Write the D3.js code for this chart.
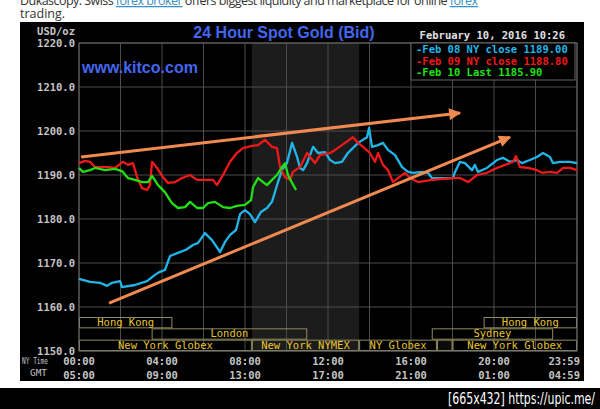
<!DOCTYPE html>
<html>
<head>
<meta charset="utf-8">
<script src="https://cdn.jsdelivr.net/npm/d3@7"></script>
<style>
  body { margin: 0; background: #fff; }
  svg { display: block; }
</style>
</head>
<body>
<script>
// axis values
var yTicks = [1150, 1160, 1170, 1180, 1190, 1200, 1210, 1220];
var gridHours = [0, 2, 4, 6, 8, 10, 12, 14, 16, 18, 20, 22, 24];
var labelHours = [0, 4, 8, 12, 16, 20, 24];
var nyLabels = ["00:00", "04:00", "08:00", "12:00", "16:00", "20:00", "23:59"];
var gmtLabels = ["05:00", "09:00", "13:00", "17:00", "21:00", "01:00", "04:59"];

// NYMEX pit session (shaded)
var pitHours = [8.33, 13.5];

// trading sessions: [name, start hour, end hour, row]
var sessions = [
  ["Hong Kong", 0, 4.5, 0],
  ["Hong Kong", 19.5, 24, 0],
  ["London", 3.5, 11, 1],
  ["Sydney", 17, 22.85, 1],
  ["New York Globex", 0, 8.33, 2],
  ["New York NYMEX", 8.33, 13.5, 2],
  ["NY Globex", 13.5, 17.25, 2],
  ["", 17.25, 18, 2],
  ["New York Globex", 18, 24, 2]
];

var legendLabels = ["Feb 08 NY close 1189.00", "Feb 09 NY close 1188.80", "Feb 10 Last 1185.90"];

// [hour, price]
var feb08 = [
  [0,1166.4],[0.53,1165.7],[1.01,1165.5],[1.35,1164.8],[1.59,1165.5],[1.98,1165.9],[2.07,1164.5],
  [2.7,1165.0],[3.28,1165.9],[3.66,1167.3],[3.9,1168.0],[4.14,1168.4],[4.39,1171.6],[4.77,1172.3],
  [5.16,1173.0],[5.49,1174.1],[5.73,1174.5],[6.07,1176.8],[6.41,1175.2],[6.8,1172.5],[7.04,1174.8],
  [7.28,1176.4],[7.57,1177.5],[7.76,1181.1],[8.0,1182.0],[8.24,1181.1],[8.48,1179.3],[8.77,1181.6],
  [9.06,1182.5],[9.3,1183.9],[9.59,1188.4],[9.78,1191.1],[10.02,1192.7],[10.27,1197.3],[10.51,1194.1],
  [10.65,1191.6],[10.8,1191.1],[10.99,1192.7],[11.28,1196.4],[11.52,1195.0],[11.86,1195.2],[12.1,1193.4],
  [12.34,1192.7],[12.67,1193.0],[12.96,1195.0],[13.45,1197.3],[13.88,1198.6],[13.98,1200.7],[14.12,1196.4],
  [14.41,1196.8],[14.65,1197.3],[14.89,1195.7],[15.23,1194.5],[15.57,1191.8],[15.86,1190.7],[16.1,1190.5],
  [16.53,1190.7],[16.82,1190.5],[17.01,1189.3],[18.02,1189.3],[18.12,1190.7],[18.36,1193.0],[18.6,1192.7],
  [18.94,1191.1],[19.08,1192.3],[19.23,1190.7],[19.66,1191.6],[20.14,1193.4],[20.43,1193.9],[20.77,1193.0],
  [21.11,1193.4],[21.35,1192.7],[21.73,1193.4],[22.07,1194.1],[22.36,1195.0],[22.7,1194.1],[22.84,1192.7],
  [23.18,1193.0],[23.66,1193.0],[24,1192.7]
];
var feb09 = [
  [0,1192.7],[0.29,1193.2],[0.53,1193.0],[0.77,1191.8],[1.11,1191.8],[1.4,1191.8],[1.73,1191.6],
  [2.12,1193.0],[2.36,1192.3],[2.6,1192.7],[2.8,1189.5],[3.04,1187.0],[3.28,1186.6],[3.42,1187.7],
  [3.52,1193.0],[3.76,1191.6],[4.0,1189.8],[4.29,1188.2],[4.63,1188.4],[4.96,1189.3],[5.35,1190.0],
  [5.69,1188.9],[6.17,1188.9],[6.46,1188.9],[6.65,1187.7],[6.94,1190.0],[7.28,1193.0],[7.61,1195.0],
  [7.9,1196.1],[8.34,1196.6],[8.63,1196.8],[8.96,1198.0],[9.3,1196.4],[9.54,1196.1],[9.69,1191.8],
  [9.93,1189.5],[10.17,1188.9],[10.31,1190.7],[10.65,1191.8],[10.99,1195.0],[11.37,1192.7],[11.61,1194.5],
  [12.1,1195.0],[12.34,1195.7],[12.82,1197.3],[13.2,1198.6],[13.45,1197.3],[13.69,1196.4],[14.02,1195.0],
  [14.27,1193.0],[14.41,1195.0],[14.65,1192.3],[14.89,1191.1],[15.13,1188.4],[15.37,1189.3],[15.71,1190.5],
  [15.95,1189.3],[16.34,1188.4],[17.01,1188.9],[18.02,1189.3],[18.36,1189.3],[18.75,1188.4],[19.18,1190.0],
  [19.66,1190.5],[20.14,1191.6],[20.53,1192.3],[20.92,1193.0],[21.06,1194.3],[21.25,1191.8],[21.64,1191.6],
  [22.07,1191.1],[22.31,1190.5],[22.7,1190.7],[23.04,1190.5],[23.33,1191.6],[23.66,1191.6],[24,1191.1]
];
var feb10 = [
  [0,1191.6],[0.19,1190.7],[0.53,1191.1],[0.77,1191.6],[1.25,1191.1],[1.73,1191.4],[2.07,1190.9],
  [2.36,1189.3],[2.7,1188.9],[3.04,1188.4],[3.33,1188.4],[3.52,1189.8],[3.81,1187.7],[4.14,1186.1],
  [4.48,1183.6],[4.77,1182.5],[5.11,1182.7],[5.35,1183.9],[5.69,1182.5],[5.98,1182.5],[6.22,1183.6],
  [6.55,1183.9],[6.94,1182.7],[7.28,1182.5],[7.61,1183.0],[8.0,1183.2],[8.29,1184.3],[8.39,1187.3],
  [8.63,1189.3],[8.87,1188.4],[9.06,1187.7],[9.3,1188.9],[9.54,1190.0],[9.78,1191.8],[9.93,1192.7],
  [10.07,1190.0],[10.27,1188.2],[10.46,1186.6]
];

// hand-drawn trend arrows: [[hour, price], [hour, price]]
var trendArrows = [
  [[0.1, 1194.1], [18.36, 1204.1]],
  [[1.45, 1160.9], [20.77, 1198.6]]
];

var width = 600, height = 409;
var plot = { left: 79, right: 577, top: 43, bottom: 351 };

var svg = d3.select("body").append("svg")
  .attr("width", width)
  .attr("height", height);

// page text above the chart
var pageText = svg.append("text")
  .attr("x", 20).attr("y", 5)
  .attr("textLength", 458)
  .attr("lengthAdjust", "spacing")
  .style("font-family", "Open Sans, sans-serif")
  .style("font-size", "12.5px")
  .attr("fill", "#333");
pageText.append("tspan").text("Dukascopy: Swiss ");
pageText.append("tspan").attr("fill", "#3b8fc4").attr("text-decoration", "underline").text("forex broker");
pageText.append("tspan").text(" offers biggest liquidity and marketplace for online ");
pageText.append("tspan").attr("fill", "#3b8fc4").attr("text-decoration", "underline").text("forex");
svg.append("text")
  .attr("x", 20).attr("y", 18)
  .style("font-family", "Open Sans, sans-serif")
  .style("font-size", "12.5px")
  .attr("fill", "#333")
  .text("trading.");

// chart frame
svg.append("rect")
  .attr("x", 20).attr("y", 22)
  .attr("width", 564).attr("height", 359)
  .attr("fill", "#000");

// bottom bar
svg.append("rect")
  .attr("x", 0).attr("y", 388)
  .attr("width", width).attr("height", 21)
  .attr("fill", "#000");
svg.append("text")
  .attr("x", 448).attr("y", 404)
  .attr("textLength", 147)
  .attr("lengthAdjust", "spacingAndGlyphs")
  .style("font-family", "DejaVu Sans Condensed, DejaVu Sans, sans-serif")
  .style("font-size", "16px")
  .attr("fill", "#fff")
  .text("[665x432] https://upic.me/");

var x = d3.scaleLinear().domain([0, 24]).range([plot.left, plot.right]);
var y = d3.scaleLinear().domain([1150, 1220]).range([plot.bottom, plot.top]);

var mono = "DejaVu Sans Mono, monospace";

// pit shading
svg.append("rect")
  .attr("x", x(pitHours[0]))
  .attr("y", plot.top)
  .attr("width", x(pitHours[1]) - x(pitHours[0]))
  .attr("height", plot.bottom - plot.top)
  .attr("fill", "#1c1c1c");

// grid
svg.append("g")
  .selectAll("line")
  .data(yTicks)
  .enter().append("line")
  .attr("x1", plot.left).attr("x2", plot.right)
  .attr("y1", d => y(d)).attr("y2", d => y(d))
  .attr("stroke", "#4c4c4c");

svg.append("g")
  .selectAll("line")
  .data(gridHours)
  .enter().append("line")
  .attr("x1", d => x(d)).attr("x2", d => x(d))
  .attr("y1", plot.top).attr("y2", plot.bottom)
  .attr("stroke", "#4c4c4c");

// y labels
svg.append("g")
  .selectAll("text")
  .data(yTicks)
  .enter().append("text")
  .attr("x", plot.left - 4)
  .attr("y", d => y(d) + 4)
  .attr("text-anchor", "end")
  .style("font-family", mono)
  .style("font-size", "10.5px")
  .style("font-weight", "bold")
  .attr("fill", "#c4c4c4")
  .text(d => d3.format(".1f")(d));

svg.append("text")
  .attr("x", plot.left - 4).attr("y", 35)
  .attr("text-anchor", "end")
  .style("font-family", mono)
  .style("font-size", "10.5px")
  .style("font-weight", "bold")
  .attr("fill", "#c4c4c4")
  .text("USD/oz");

// x labels (two rows)
[nyLabels, gmtLabels].forEach(function(labels, r) {
  svg.append("g")
    .selectAll("text")
    .data(labelHours)
    .enter().append("text")
    .attr("x", (d, i) => i === labelHours.length - 1 ? x(d) + 3 : x(d))
    .attr("y", 365 + r * 14)
    .attr("text-anchor", (d, i) => i === labelHours.length - 1 ? "end" : "middle")
    .style("font-family", mono)
    .style("font-size", "10.5px")
    .style("font-weight", "bold")
    .attr("fill", "#c4c4c4")
    .text((d, i) => labels[i]);
});

svg.append("text")
  .attr("x", 22).attr("y", 364)
  .attr("textLength", 26)
  .attr("lengthAdjust", "spacingAndGlyphs")
  .style("font-family", mono)
  .style("font-size", "8px")
  .attr("fill", "#c4c4c4")
  .text("NY Time");
svg.append("text")
  .attr("x", 30).attr("y", 376)
  .attr("textLength", 17)
  .attr("lengthAdjust", "spacingAndGlyphs")
  .style("font-family", mono)
  .style("font-size", "8px")
  .attr("fill", "#c4c4c4")
  .text("GMT");

// session bands
var rowH = (y(1150) - y(1160) - 10) / 3;
var rowTop = y(1160) + 10;
var sess = svg.append("g");
sess.selectAll("rect")
  .data(sessions)
  .enter().append("rect")
  .attr("x", d => x(d[1]) + 0.5)
  .attr("y", d => rowTop + d[3] * rowH + 0.5)
  .attr("width", d => x(d[2]) - x(d[1]) - 1)
  .attr("height", rowH - 1)
  .attr("fill", d => d[0] === "" ? "#0c0c0c" : "none")
  .attr("stroke", "#8e8b5c");
sess.selectAll("text")
  .data(sessions)
  .enter().append("text")
  .attr("x", d => (x(d[1]) + x(d[2])) / 2)
  .attr("y", d => rowTop + d[3] * rowH + rowH - 2.5)
  .attr("text-anchor", "middle")
  .style("font-family", mono)
  .style("font-size", "10.5px")
  .attr("fill", "#e8c430")
  .text(d => d[0]);

// plot border
svg.append("rect")
  .attr("x", plot.left).attr("y", plot.top)
  .attr("width", plot.right - plot.left)
  .attr("height", plot.bottom - plot.top)
  .attr("fill", "none")
  .attr("stroke", "#666");

// series
var line = d3.line()
  .x(d => x(d[0]))
  .y(d => y(d[1]));

var seriesList = [
  { data: feb08, color: "#20b6ea" },
  { data: feb09, color: "#f01818" },
  { data: feb10, color: "#22e014" }
];
seriesList.forEach(function(s) {
  svg.append("path")
    .datum(s.data)
    .attr("d", line)
    .attr("fill", "none")
    .attr("stroke", s.color)
    .attr("stroke-width", 2.3)
    .attr("stroke-linejoin", "round");
});

// legend box
var legendX = x(16), legendY = plot.top;
svg.append("rect")
  .attr("x", legendX).attr("y", legendY)
  .attr("width", plot.right - legendX - 2)
  .attr("height", 37)
  .attr("fill", "#000")
  .attr("stroke", "#666");
svg.append("g")
  .selectAll("text")
  .data(legendLabels)
  .enter().append("text")
  .attr("x", legendX + 5)
  .attr("y", (d, i) => legendY + 10 + i * 11.5)
  .style("font-family", mono)
  .style("font-size", "10.5px")
  .style("font-weight", "bold")
  .attr("fill", (d, i) => seriesList[i].color)
  .text(d => "-" + d);

svg.append("text")
  .attr("x", 565).attr("y", 39)
  .attr("text-anchor", "end")
  .style("font-family", mono)
  .style("font-size", "10.5px")
  .style("font-weight", "bold")
  .attr("fill", "#e0e0e0")
  .text("February 10, 2016 10:26");

// titles
svg.append("text")
  .attr("x", 284).attr("y", 38)
  .attr("text-anchor", "middle")
  .style("font-family", "Liberation Sans, Arial, sans-serif")
  .style("font-size", "16px")
  .style("font-weight", "bold")
  .attr("fill", "#4466ee")
  .text("24 Hour Spot Gold (Bid)");
svg.append("text")
  .attr("x", 82).attr("y", 73)
  .style("font-family", "Liberation Sans, Arial, sans-serif")
  .style("font-size", "16px")
  .style("font-weight", "bold")
  .attr("fill", "#4466ee")
  .text("www.kitco.com");

// trend arrows
svg.append("defs").append("marker")
  .attr("id", "arrow")
  .attr("viewBox", "0 0 10 10")
  .attr("refX", 9).attr("refY", 5)
  .attr("markerWidth", 5).attr("markerHeight", 4)
  .attr("markerUnits", "strokeWidth")
  .attr("orient", "auto")
  .append("path")
  .attr("d", "M0,0L10,5L0,10Z")
  .attr("fill", "#f08a50");

svg.append("g")
  .selectAll("line")
  .data(trendArrows)
  .enter().append("line")
  .attr("x1", d => x(d[0][0])).attr("y1", d => y(d[0][1]))
  .attr("x2", d => x(d[1][0])).attr("y2", d => y(d[1][1]))
  .attr("stroke", "#f08a50")
  .attr("stroke-width", 3)
  .attr("marker-end", "url(#arrow)");
</script>
</body>
</html>
